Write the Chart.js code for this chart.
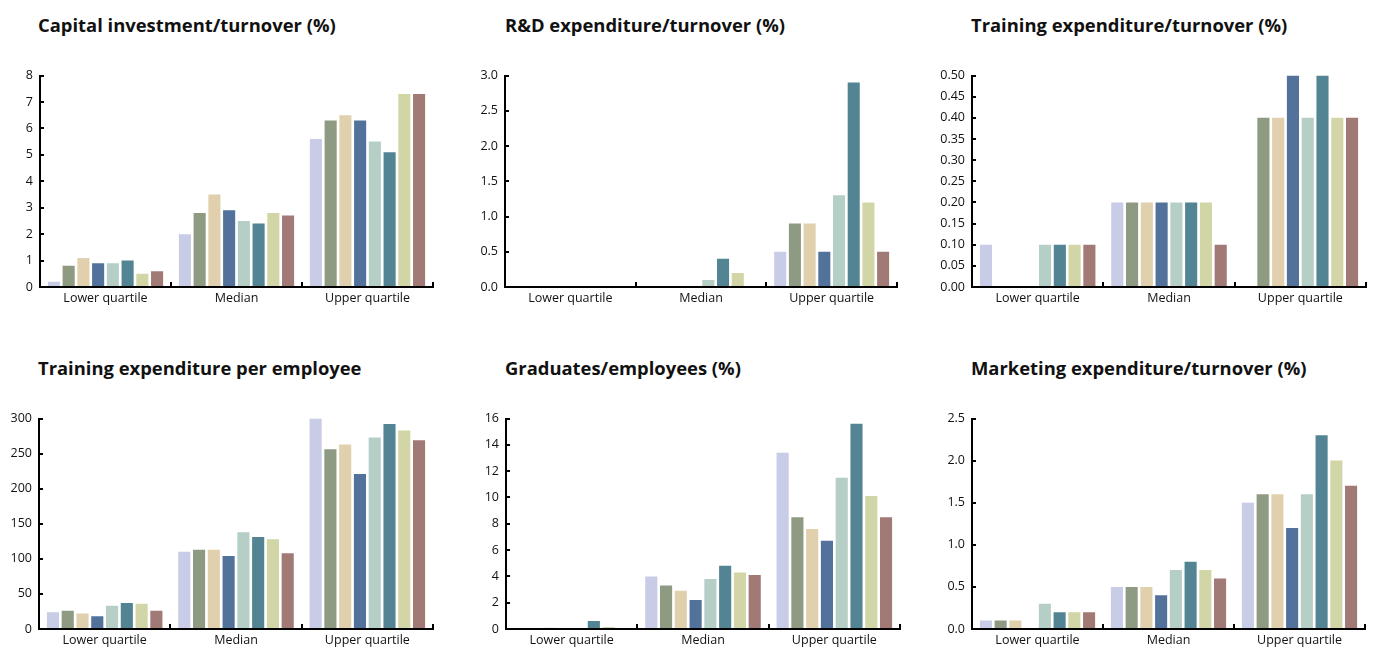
<!DOCTYPE html>
<html>
<head>
<meta charset="utf-8">
<script src="https://cdn.jsdelivr.net/npm/chart.js@4/dist/chart.umd.min.js"></script>
<style>
  html, body { margin: 0; padding: 0; background: #fff; width: 1377px; height: 648px; overflow: hidden; }
  .panel { position: absolute; }
  .title { position: absolute; font-family: "Open Sans", sans-serif; font-weight: 700; font-size: 18.4px; color: #111; white-space: nowrap; }
</style>
</head>
<body>
<script>
// Categories shared by every panel
const categories = ['Lower quartile', 'Median', 'Upper quartile'];
const seriesNames = ['Group 1', 'Group 2', 'Group 3', 'Group 4', 'Group 5', 'Group 6', 'Group 7', 'Group 8'];

// Values per category (lower quartile, median, upper quartile), one entry per series
const capitalInvestment = [
  [0.2, 0.8, 1.1, 0.9, 0.9, 1.0, 0.5, 0.6],
  [2.0, 2.8, 3.5, 2.9, 2.5, 2.4, 2.8, 2.7],
  [5.6, 6.3, 6.5, 6.3, 5.5, 5.1, 7.3, 7.3]
];
const rdExpenditure = [
  [0, 0, 0, 0, 0, 0, 0, 0],
  [0, 0, 0, 0, 0.1, 0.4, 0.2, 0],
  [0.5, 0.9, 0.9, 0.5, 1.3, 2.9, 1.2, 0.5]
];
const trainingTurnover = [
  [0.1, 0, 0, 0, 0.1, 0.1, 0.1, 0.1],
  [0.2, 0.2, 0.2, 0.2, 0.2, 0.2, 0.2, 0.1],
  [0, 0.4, 0.4, 0.5, 0.4, 0.5, 0.4, 0.4]
];
const trainingPerEmployee = [
  [24, 26, 22, 18, 33, 37, 36, 26],
  [110, 113, 113, 104, 138, 131, 128, 108],
  [300, 256, 263, 221, 273, 292, 283, 269]
];
const graduates = [
  [0, 0, 0.1, 0, 0, 0.6, 0.15, 0],
  [4.0, 3.3, 2.9, 2.2, 3.8, 4.8, 4.3, 4.1],
  [13.4, 8.5, 7.6, 6.7, 11.5, 15.6, 10.1, 8.5]
];
const marketing = [
  [0.1, 0.1, 0.1, 0, 0.3, 0.2, 0.2, 0.2],
  [0.5, 0.5, 0.5, 0.4, 0.7, 0.8, 0.7, 0.6],
  [1.5, 1.6, 1.6, 1.2, 1.6, 2.3, 2.0, 1.7]
];

// Panel titles
const titles = [
  'Capital investment/turnover (%)',
  'R&D expenditure/turnover (%)',
  'Training expenditure/turnover (%)',
  'Training expenditure per employee',
  'Graduates/employees (%)',
  'Marketing expenditure/turnover (%)'
];

// Series colours
const palette = ['#c8cce6', '#8f9a83', '#e0d0ad', '#52729b', '#b5cfc6', '#538494', '#d2d5a6', '#a17a76'];

// Layout of each panel: plot area edges and y scale
const panels = [
  { data: capitalInvestment,   axisX: 40,  endX: 433,  top: 75,  bottom: 287, titleX: 38,  titleY: 12,  max: 8,   step: 1,    dec: 0 },
  { data: rdExpenditure,       axisX: 505, endX: 897,  top: 75,  bottom: 287, titleX: 505, titleY: 12,  max: 3,   step: 0.5,  dec: 1 },
  { data: trainingTurnover,    axisX: 972, endX: 1366, top: 75,  bottom: 287, titleX: 971, titleY: 12,  max: 0.5, step: 0.05, dec: 2 },
  { data: trainingPerEmployee, axisX: 39,  endX: 433,  top: 418, bottom: 629, titleX: 38,  titleY: 355, max: 300, step: 50,   dec: 0 },
  { data: graduates,           axisX: 506, endX: 900,  top: 418, bottom: 629, titleX: 505, titleY: 355, max: 16,  step: 2,    dec: 0 },
  { data: marketing,           axisX: 972, endX: 1365, top: 418, bottom: 629, titleX: 971, titleY: 355, max: 2.5, step: 0.5,  dec: 1 }
];

const FONT = { family: '"Open Sans", sans-serif', size: 12.5 };
// Space the chart keeps above its plot area for the top tick label
const Y_LABEL_W = 40, X_LABEL_H = 30, LABEL_PAD = 18, PAD_RIGHT = 2;

panels.forEach((p, i) => {
  const t = document.createElement('div');
  t.className = 'title';
  t.style.left = p.titleX + 'px';
  t.style.top = p.titleY + 'px';
  t.textContent = titles[i];
  document.body.appendChild(t);

  const left = p.axisX - Y_LABEL_W;
  const width = p.endX - left + PAD_RIGHT;
  const height = p.bottom - p.top + LABEL_PAD + X_LABEL_H;
  const wrap = document.createElement('div');
  wrap.className = 'panel';
  wrap.style.left = left + 'px';
  wrap.style.top = (p.top - LABEL_PAD) + 'px';
  wrap.style.width = width + 'px';
  wrap.style.height = height + 'px';
  const canvas = document.createElement('canvas');
  wrap.appendChild(canvas);
  document.body.appendChild(wrap);

  const datasets = seriesNames.map((name, s) => ({
    label: name,
    data: p.data.map(row => row[s]),
    backgroundColor: palette[s],
    borderWidth: 0,
    categoryPercentage: 0.9,
    barPercentage: 0.82
  }));

  new Chart(canvas, {
    type: 'bar',
    data: { labels: categories, datasets },
    options: {
      responsive: true,
      maintainAspectRatio: false,
      animation: false,
      events: [],
      layout: { padding: { top: 0, right: PAD_RIGHT, left: 0, bottom: 0 } },
      plugins: { legend: { display: false }, tooltip: { enabled: false }, title: { display: false } },
      scales: {
        x: {
          offset: true,
          border: { display: true, color: '#000', width: 2, z: 1 },
          grid: { offset: true, drawOnChartArea: false, drawTicks: true, tickLength: -5, color: '#000', lineWidth: 2 },
          ticks: { color: '#111', font: FONT, padding: 9, maxRotation: 0 },
          afterFit: s => { s.height = X_LABEL_H; }
        },
        y: {
          min: 0,
          max: p.max,
          border: { display: true, color: '#000', width: 2 },
          grid: { drawOnChartArea: false, drawTicks: true, tickLength: -4, color: '#000', lineWidth: 2 },
          ticks: {
            stepSize: p.step,
            color: '#111',
            font: FONT,
            padding: 11,
            callback: v => Number(v).toFixed(p.dec)
          },
          afterFit: s => { s.width = Y_LABEL_W; }
        }
      }
    }
  });
});
</script>
</body>
</html>
